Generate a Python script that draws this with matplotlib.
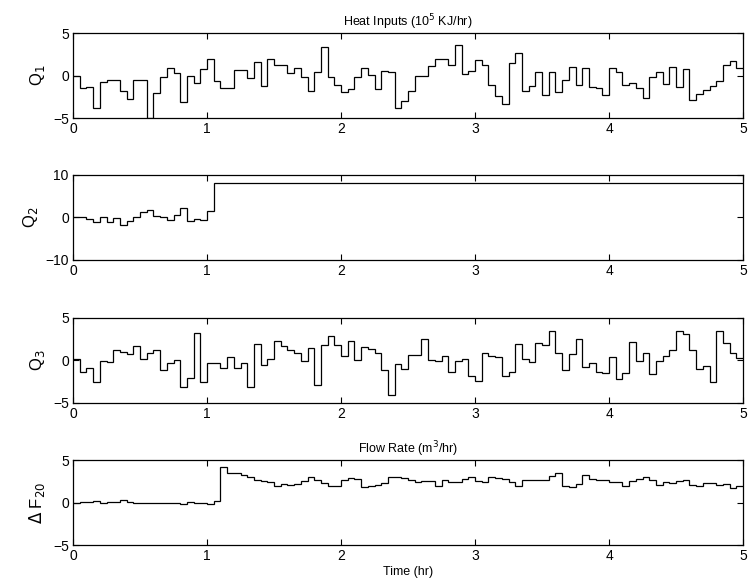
import matplotlib
matplotlib.use("Agg")
import matplotlib.pyplot as plt
import numpy as np

plt.rcParams["font.family"] = ["Liberation Sans", "DejaVu Sans"]
plt.rcParams["axes.unicode_minus"] = True

# sample period 0.05 hr, 100 samples held over 0-5 hr
DT = 0.05

q1 = [0.0, -1.4, -1.3, -3.8, -0.7, -0.5, -0.5, -1.8, -2.7, -0.5,
      -0.5, -5.0, -2.0, -0.1, 0.9, 0.3, -3.1, 0.0, -0.9, 0.8,
      2.0, -0.6, -1.5, -1.4, 0.7, 0.7, -0.3, 1.6, -1.2, 2.0,
      1.2, 1.2, 0.3, 0.9, -0.1, -1.8, 0.4, 3.4, -0.1, -1.1,
      -1.9, -1.6, -0.2, 0.9, 0.1, -1.6, 0.5, 0.4, -3.8, -3.0,
      -1.8, 0.0, 0.0, 1.1, 2.0, 2.0, 1.2, 3.6, 0.2, 0.6,
      1.9, 1.2, -1.1, -2.4, -3.3, 1.5, 2.7, -1.8, -1.2, 0.4,
      -2.3, 0.4, -1.9, -0.5, 1.0, -1.1, 0.95, -1.3, -1.5, -2.3,
      0.9, 0.4, -1.1, -0.9, -1.4, -2.6, -0.2, 0.4, -1.0, 1.0,
      -1.3, 0.8, -2.9, -2.1, -1.7, -1.2, -0.6, 1.3, 1.7, 0.95]

q2 = ([0.0, 0.0, -0.4, -1.2, 0.1, -1.1, -0.2, -1.7, -0.9, 0.2,
       1.2, 1.8, 0.4, 0.2, -0.7, 0.6, 2.2, -0.9, -0.3, -0.5,
       1.6] + [8.0] * 79)

q3 = [0.1, -1.4, -0.9, -2.5, -0.1, -0.2, 1.25, 1.0, 0.75, 1.7,
      0.1, 0.8, 1.25, -1.1, -0.3, 0.0, -3.2, -2.1, 3.2, -2.5,
      -0.3, -0.3, -0.9, 0.4, -0.9, -0.3, -3.2, 1.95, -0.5, 0.1,
      2.3, 1.7, 1.2, 0.85, -0.1, 1.5, -2.9, 1.85, 2.8, 1.75,
      0.45, 2.3, 0.0, 1.55, 1.35, 0.8, -1.2, -4.1, -0.45, -1.05,
      0.65, 0.65, 2.45, 0.0, -0.1, 0.45, -1.35, -0.1, 0.2, -1.9,
      -2.45, 0.9, 0.45, 0.4, -1.9, -1.35, 1.95, 0.1, -0.2, 2.0,
      1.85, 3.45, 0.9, -1.2, 0.7, 2.45, -0.85, -0.3, -1.35, -1.5,
      0.4, -2.15, -1.55, 2.15, -0.1, 0.9, -1.65, -0.1, 0.5, 1.25,
      3.45, 3.05, 1.25, -1.0, -0.65, -2.55, 3.4, 2.0, 0.9, 0.3]

df20 = [0.0, 0.05, 0.1, 0.2, 0.0, 0.1, 0.05, 0.25, 0.1, 0.0,
        -0.1, -0.1, -0.05, 0.0, -0.05, -0.1, -0.2, 0.1, 0.0, 0.0,
        -0.2, 0.2, 4.2, 3.5, 3.5, 3.2, 3.0, 2.6, 2.5, 2.4,
        1.95, 2.15, 2.1, 2.2, 2.5, 3.0, 2.6, 2.35, 1.9, 2.0,
        2.6, 2.9, 2.8, 1.8, 1.9, 2.1, 2.3, 3.0, 2.95, 2.9,
        2.7, 2.4, 2.5, 2.5, 2.0, 2.6, 2.4, 2.4, 2.8, 3.0,
        2.5, 2.4, 3.0, 2.9, 2.8, 2.4, 1.9, 2.6, 2.7, 2.7,
        2.7, 3.1, 3.5, 2.0, 1.8, 2.2, 3.2, 2.8, 2.6, 2.6,
        2.4, 2.4, 1.9, 2.5, 2.8, 3.0, 2.6, 2.1, 2.4, 2.3,
        2.5, 2.6, 2.1, 1.9, 2.35, 2.3, 2.1, 2.2, 1.7, 1.9]

series = [q1, q2, q3, df20]
ylabels = ["Q$_1$", "Q$_2$", "Q$_3$", "$\\Delta$ F$_{20}$"]
ylims = [(-5, 5), (-10, 10), (-5, 5), (-5, 5)]
titles = {0: "Heat Inputs (10$^5$ KJ/hr)", 3: "Flow Rate (m$^3$/hr)"}

fig = plt.figure(figsize=(7.49, 5.88), dpi=100)
left, width, height = 0.0975, 0.8945, 0.1446
bottoms = [0.799, 0.558, 0.315, 0.073]

for i, (vals, yl, lim, b) in enumerate(zip(series, ylabels, ylims, bottoms)):
    ax = fig.add_axes([left, b, width, height])
    edges = np.arange(len(vals) + 1) * DT
    ax.stairs(vals, edges, color="black", linewidth=0.9, baseline=None)
    ax.set_xlim(0, 5)
    ax.set_ylim(*lim)
    ax.set_xticks(range(6))
    ax.set_yticks([lim[0], 0, lim[1]])
    ax.tick_params(direction="in", top=True, right=True, length=4,
                   width=0.8, labelsize=10, pad=3)
    for sp in ax.spines.values():
        sp.set_linewidth(0.9)
    ax.set_ylabel(yl, fontsize=12, labelpad=4)
    if i in titles:
        ax.set_title(titles[i], fontsize=9, pad=5)
    if i == 3:
        ax.set_xlabel("Time (hr)", fontsize=9, labelpad=2)

fig.savefig("out.png", dpi=100)
